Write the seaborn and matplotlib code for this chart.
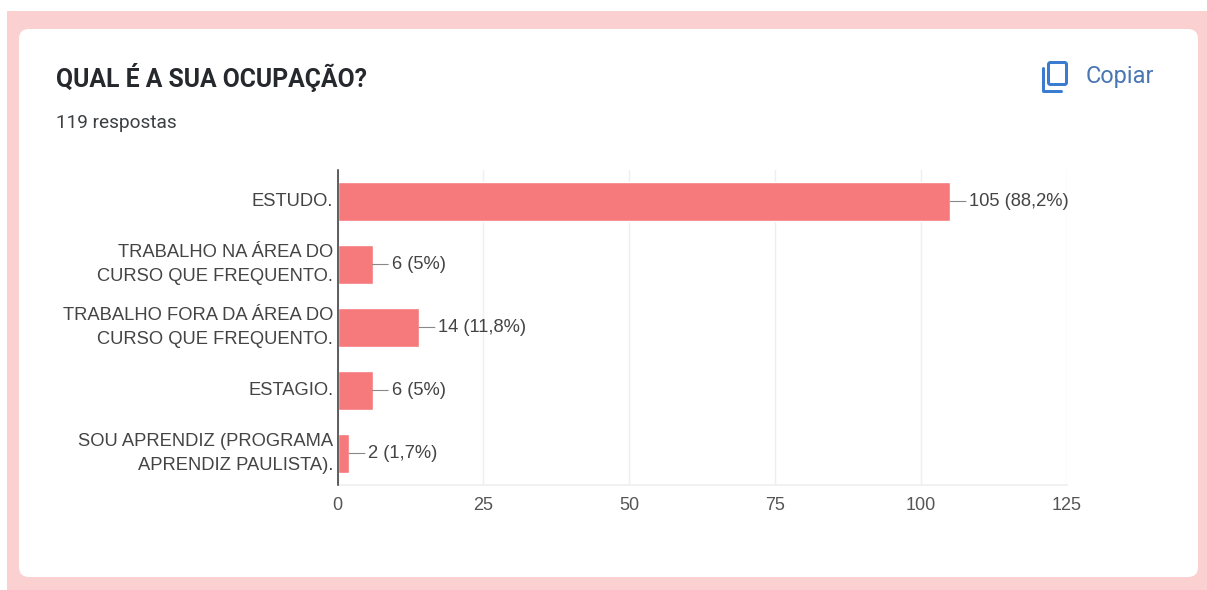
import matplotlib
matplotlib.use("Agg")
import matplotlib.pyplot as plt
from matplotlib.patches import FancyBboxPatch, Rectangle
from matplotlib.lines import Line2D
import pandas as pd
import seaborn as sns

categories = [
    "ESTUDO.",
    "TRABALHO NA ÁREA DO\nCURSO QUE FREQUENTO.",
    "TRABALHO FORA DA ÁREA DO\nCURSO QUE FREQUENTO.",
    "ESTAGIO.",
    "SOU APRENDIZ (PROGRAMA\nAPRENDIZ PAULISTA).",
]
counts = [105, 6, 14, 6, 2]
percent_labels = ["88,2%", "5%", "11,8%", "5%", "1,7%"]
x_ticks = [0, 25, 50, 75, 100, 125]

W, H = 1207, 590
PT = 72 / 100  # points per pixel at dpi 100

sns.set_theme(style="white")
plt.rcParams["font.family"] = ["Liberation Sans", "DejaVu Sans"]

fig = plt.figure(figsize=(W / 100, H / 100), dpi=100, facecolor="white")

# Page backdrop and rounded card, laid out in pixel coordinates
bg = fig.add_axes([0, 0, 1, 1], zorder=0)
bg.set_xlim(0, W)
bg.set_ylim(H, 0)
bg.axis("off")
bg.add_patch(Rectangle((7, 11), W - 7, H - 11, color="#fbd0d0", lw=0))
bg.add_patch(FancyBboxPatch((28, 38), 1161, 530,
                            boxstyle="round,pad=9,rounding_size=10",
                            fc="white", ec="none"))

bg.text(56, 77.5, "QUAL É A SUA OCUPAÇÃO?", family="Roboto", weight="bold",
        fontsize=24.8 * PT, color="#25282c", va="center", ha="left")
bg.text(56, 122.5, "119 respostas", family="Roboto", fontsize=19 * PT,
        color="#3c4043", va="center", ha="left")
bg.text(1086, 76, "Copiar", family="Roboto", fontsize=23.5 * PT,
        color="#4a76b4", va="center", ha="left")

# Copy icon
bg.add_patch(FancyBboxPatch((1048.5, 62.5), 18, 22,
                            boxstyle="round,pad=0,rounding_size=2",
                            fc="none", ec="#3b7bd0", lw=3 * PT))
bg.add_line(Line2D([1043, 1043, 1061], [68, 90.5, 90.5], color="#3b7bd0",
                   lw=3 * PT, solid_joinstyle="round"))

# Bar chart
left, right, top, bottom = 337.5, 1067, 170, 485
ax = fig.add_axes([left / W, 1 - bottom / H, (right - left) / W, (bottom - top) / H],
                  zorder=1, facecolor="none")

data = pd.DataFrame({"categoria": categories, "respostas": counts})
sns.barplot(data=data, y="categoria", x="respostas", orient="h", color="#f6797b",
            saturation=1, width=0.61, ax=ax, zorder=3)

ax.set_xlim(x_ticks[0], x_ticks[-1])
ax.set_xticks(x_ticks)
ax.set_xlabel("")
ax.set_ylabel("")
ax.grid(axis="x", color="#efefef", lw=1)
ax.set_axisbelow(True)
for side in ("top", "right"):
    ax.spines[side].set_visible(False)
ax.spines["bottom"].set_color("#efefef")
ax.spines["left"].set_color("#333333")
ax.spines["left"].set_linewidth(1.1)
ax.spines["left"].set_zorder(5)
ax.tick_params(axis="y", length=0, pad=3, labelsize=18.4 * PT, labelcolor="#444444")
ax.tick_params(axis="x", length=0, pad=9, labelsize=18 * PT, labelcolor="#555555")
for label in ax.get_yticklabels():
    label.set_linespacing(1.5)
    label.set_verticalalignment("center")

# Value labels joined to the bars by short leader lines
for i, (value, pct) in enumerate(zip(counts, percent_labels)):
    ax.annotate(f"{value} ({pct})", xy=(value, i), xycoords="data",
                xytext=(19 * PT, 0), textcoords="offset points",
                va="center", ha="left", fontsize=18.4 * PT, color="#444444",
                arrowprops=dict(arrowstyle="-", color="#888888", lw=0.8,
                                shrinkA=0, shrinkB=0, relpos=(0, 0.5)),
                zorder=6)

fig.savefig("out.png", dpi=100, facecolor="white")
